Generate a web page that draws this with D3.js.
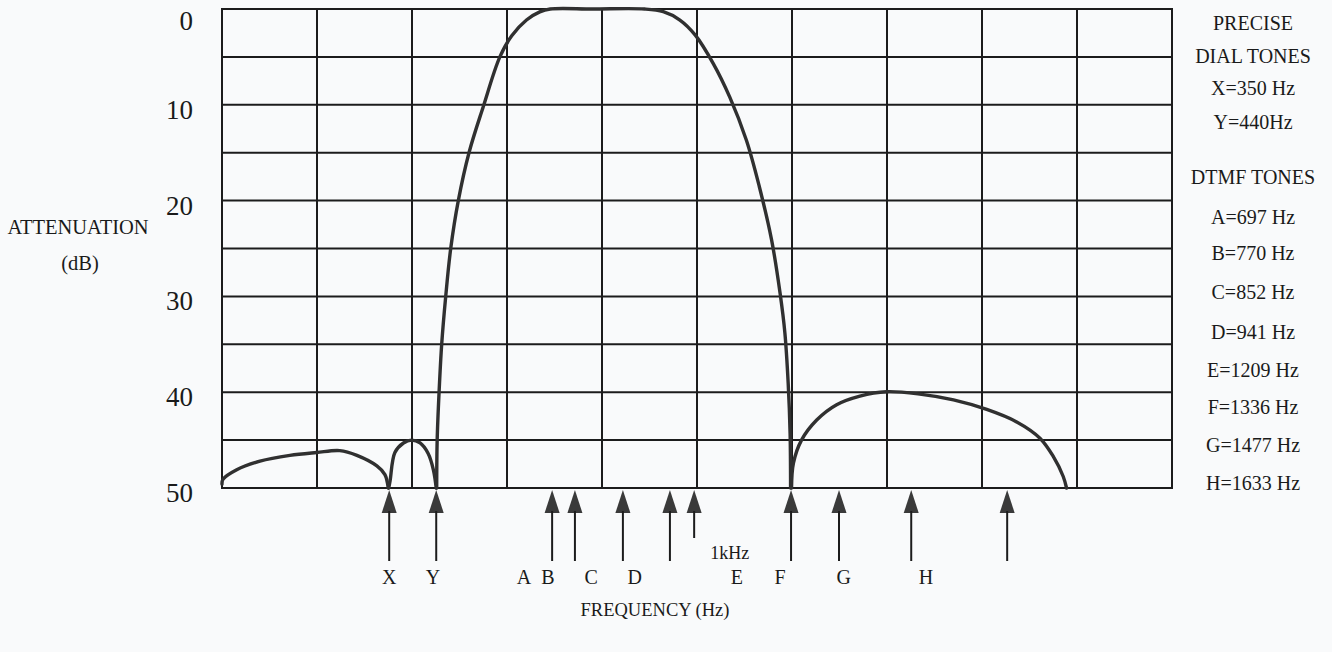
<!DOCTYPE html>
<html>
<head>
<meta charset="utf-8">
<script src="https://cdn.jsdelivr.net/npm/d3@7"></script>
<style>
  html, body { margin: 0; padding: 0; background: #f9fafb; }
  svg { display: block; }
  text { font-family: "Liberation Serif", "Times New Roman", serif; fill: #1a1a1a; }
</style>
</head>
<body>
<svg id="chart" width="1332" height="652"></svg>
<script>
// ---------- DATA ----------
// Frequency in Hz (x axis, 0–2000 Hz, 200 Hz per division), attenuation in dB (y axis, 0 top, 50 bottom)
const yTickValues = [0, 10, 20, 30, 40, 50];
const yGridValues = [0, 5, 10, 15, 20, 25, 30, 35, 40, 45, 50];
const xGridValues = [0, 200, 400, 600, 800, 1000, 1200, 1400, 1600, 1800, 2000];

// response curve, as [Hz, dB]
const lobeLow = [[0, 49.6], [2, 49.1], [31, 48.1], [80, 47.2], [143, 46.6], [199, 46.3], [248, 46.1],
                 [284, 46.6], [326, 47.7], [343, 48.6], [350, 50]];
const lobeMid = [[351, 50], [354, 49.2], [364, 46.3], [382, 45.3], [399, 45.0], [417, 45.3],
                 [434, 46.4], [445, 48.1], [451, 50]];
const passband = [[452, 50], [453, 45], [457, 40], [462.5, 35], [471, 30], [481.5, 25],
                  [497.5, 20], [520, 15], [550, 10.2], [585, 5], [610, 2.8], [641, 1.15],
                  [669, 0.3], [691, 0], [780, 0], [890, 0], [929, 0.28], [964, 1.15], [996, 2.7],
                  [1034, 5.67], [1069, 9.2], [1104, 13.7], [1131, 18.5], [1157, 24.1], [1175, 29.7],
                  [1185, 33.8], [1192, 39.1], [1196, 44.3], [1197, 50]];
const lobeHigh = [[1199, 50], [1203, 47.4], [1220, 45.0], [1252, 42.9], [1294, 41.3], [1343, 40.4],
                  [1399, 39.95], [1469, 40.2], [1540, 40.8], [1610, 41.8], [1673, 43.1], [1722, 44.8],
                  [1750, 46.7], [1771, 48.8], [1778, 50]];

// tone marker arrows (Hz) and the letters printed under them
const arrowFreqs = [352, 451, 695, 743, 844, 943, 994, 1198, 1299, 1451, 1653];
const arrowShort = [false, false, false, false, false, false, true, false, false, false, false];
const toneLetters = ["X", "Y", "A", "B", "C", "D", "E", "F", "G", "H"];
const toneLetterFreqs = [352, 444, 636, 686, 777, 869, 1084, 1175, 1309, 1482];

// legend on the right
const legendLines = ["PRECISE", "DIAL TONES", "X=350 Hz", "Y=440Hz", "DTMF TONES",
                     "A=697 Hz", "B=770 Hz", "C=852 Hz", "D=941 Hz", "E=1209 Hz",
                     "F=1336 Hz", "G=1477 Hz", "H=1633 Hz"];
const legendY = [23, 56, 88, 122, 177, 217, 253, 292, 332, 370, 407, 445, 483];

// ---------- LAYOUT ----------
const svg = d3.select("#chart");
const x = d3.scaleLinear().domain([0, 2000]).range([222, 1172]);
const y = d3.scaleLinear().domain([0, 50]).range([9, 488]);

const ink = "#1c1c1c";

// grid
const grid = svg.append("g");
grid.selectAll("line.h").data(yGridValues).join("line")
  .attr("x1", x(0)).attr("x2", x(2000))
  .attr("y1", d => y(d)).attr("y2", d => y(d))
  .attr("stroke", ink).attr("stroke-width", 2);
grid.selectAll("line.v").data(xGridValues).join("line")
  .attr("x1", d => x(d)).attr("x2", d => x(d))
  .attr("y1", y(0) - 1).attr("y2", y(50) + 1)
  .attr("stroke", ink).attr("stroke-width", 2);

// y tick labels
svg.append("g").selectAll("text").data(yTickValues).join("text")
  .attr("x", 193)
  .attr("y", d => Math.max(y(d) + 5, 21))
  .attr("text-anchor", "end")
  .attr("dominant-baseline", "central")
  .attr("font-size", 27)
  .text(d => d);

// y axis title
svg.append("text").attr("x", 78).attr("y", 227).attr("text-anchor", "middle")
  .attr("dominant-baseline", "central").attr("font-size", 20.5).text("ATTENUATION");
svg.append("text").attr("x", 80).attr("y", 263).attr("text-anchor", "middle")
  .attr("dominant-baseline", "central").attr("font-size", 20.5).text("(dB)");

// curve
const line = d3.line().x(d => x(d[0])).y(d => y(d[1])).curve(d3.curveCatmullRom.alpha(0.5));
svg.append("g").selectAll("path").data([lobeLow, lobeMid, passband, lobeHigh]).join("path")
  .attr("d", line)
  .attr("fill", "none")
  .attr("stroke", "#303030")
  .attr("stroke-width", 3.4)
  .attr("stroke-linejoin", "round")
  .attr("stroke-linecap", "round");

// arrows
const arrows = svg.append("g");
const headTop = y(50) + 2, headBase = headTop + 23, halfW = 7.5;
arrows.selectAll("path").data(arrowFreqs).join("path")
  .attr("d", d => `M${x(d)},${headTop}L${x(d) + halfW},${headBase}L${x(d) - halfW},${headBase}Z`)
  .attr("fill", "#3a3a3a");
arrows.selectAll("line").data(arrowFreqs).join("line")
  .attr("x1", d => x(d)).attr("x2", d => x(d))
  .attr("y1", headBase - 2)
  .attr("y2", (d, i) => arrowShort[i] ? 538 : 561)
  .attr("stroke", ink).attr("stroke-width", 2);

// tone letters
svg.append("g").selectAll("text").data(toneLetters).join("text")
  .attr("x", (d, i) => x(toneLetterFreqs[i]))
  .attr("y", 584)
  .attr("text-anchor", "middle")
  .attr("font-size", 20)
  .text(d => d);

svg.append("text").attr("x", x(1069)).attr("y", 559).attr("text-anchor", "middle")
  .attr("font-size", 18).text("1kHz");

// x axis title
svg.append("text").attr("x", 655).attr("y", 616).attr("text-anchor", "middle")
  .attr("font-size", 18.5).text("FREQUENCY (Hz)");

// legend
svg.append("g").selectAll("text").data(legendLines).join("text")
  .attr("x", 1253)
  .attr("y", (d, i) => legendY[i])
  .attr("text-anchor", "middle")
  .attr("dominant-baseline", "central")
  .attr("font-size", 20)
  .text(d => d);
</script>
</body>
</html>
